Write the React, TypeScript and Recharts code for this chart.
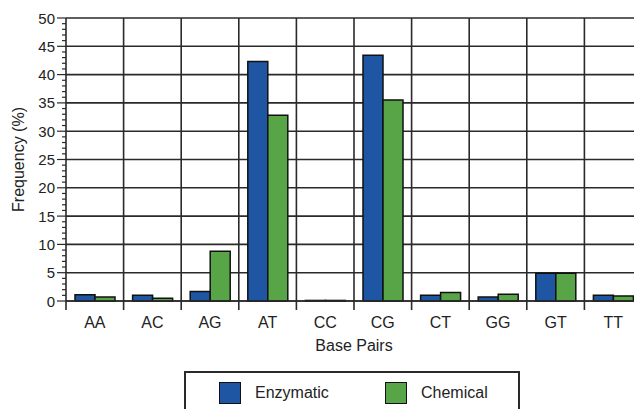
import React from 'react';
import { BarChart, Bar, XAxis, YAxis, CartesianGrid, Legend } from 'recharts';

const categories = ['AA', 'AC', 'AG', 'AT', 'CC', 'CG', 'CT', 'GG', 'GT', 'TT'];
const enzymatic = [1.1, 1.0, 1.7, 42.3, 0.1, 43.4, 1.0, 0.7, 4.9, 1.0];
const chemical = [0.7, 0.5, 8.8, 32.8, 0.1, 35.5, 1.5, 1.2, 4.9, 0.9];
const yTicks = Array.from({ length: 51 }, (_, i) => i);
const majorTicks = [0, 5, 10, 15, 20, 25, 30, 35, 40, 45, 50];

const data = categories.map((c, i) => ({ pair: c, Enzymatic: enzymatic[i], Chemical: chemical[i] }));

const BLUE = '#1f56a3';
const GREEN = '#58a547';
const INK = '#2a2a2a';
const FONT = '"Liberation Sans", Arial, Helvetica, sans-serif';

const XTick = (props: any) => {
  const { x, y, payload, width } = props;
  const w = typeof width === 'number' && width > 0 ? width : 576;
  const bx = x - w / categories.length / 2;
  return (
    <g>
      <line x1={bx} x2={bx} y1={y} y2={y + 9} stroke={INK} strokeWidth={1.6} />
      <text x={x} y={y + 21} textAnchor="middle" dominantBaseline="central" fill="#222" fontSize={16} fontFamily={FONT}>
        {payload.value}
      </text>
    </g>
  );
};

const YTick = (props: any) => {
  const { x, y, payload } = props;
  const v = payload.value;
  const major = v % 5 === 0;
  return (
    <g>
      <line x1={x - (major ? 9 : 4)} x2={x} y1={y} y2={y} stroke={INK} strokeWidth={1.2} />
      {major && (
        <text x={x - 11} y={y} textAnchor="end" dominantBaseline="central" fill="#222" fontSize={15} fontFamily={FONT}>
          {v}
        </text>
      )}
    </g>
  );
};

const verticalGen = (p: any) => {
  const o = p.offset;
  return categories.map((_, i) => o.left + ((i + 1) * o.width) / categories.length);
};

const horizontalGen = (p: any) => {
  const o = p.offset;
  return majorTicks.map((v) => o.top + o.height * (1 - v / 50));
};

const LegendBox = () => (
  <div style={{ position: 'relative', width: 660, height: 70 }}>
    <div
      style={{
        position: 'absolute',
        left: 184,
        top: 18,
        width: 336,
        height: 50,
        border: `2px solid ${INK}`,
        boxSizing: 'border-box',
        fontFamily: FONT,
        fontSize: 16,
        color: '#222',
      }}
    >
      {[
        { name: 'Enzymatic', color: BLUE, sx: 33 },
        { name: 'Chemical', color: GREEN, sx: 199 },
      ].map((it) => (
        <React.Fragment key={it.name}>
          <div
            style={{
              position: 'absolute',
              left: it.sx,
              top: 9,
              width: 22,
              height: 22,
              background: it.color,
              border: '1.5px solid #111',
              boxSizing: 'border-box',
            }}
          />
          <div style={{ position: 'absolute', left: it.sx + 36, top: 10, lineHeight: '20px' }}>{it.name}</div>
        </React.Fragment>
      ))}
    </div>
  </div>
);

export default function App() {
  return (
    <div style={{ position: 'absolute', left: 0, top: 0, width: 634, height: 409, overflow: 'hidden', background: '#fff' }}>
      <BarChart
        width={660}
        height={423}
        data={data}
        margin={{ top: 18, right: 18, left: 10, bottom: 0 }}
        barGap={0}
        barSize={20}
      >
        <CartesianGrid
          stroke={INK}
          strokeWidth={1.6}
          verticalCoordinatesGenerator={verticalGen}
          horizontalCoordinatesGenerator={horizontalGen}
        />
        <XAxis
          dataKey="pair"
          height={52}
          tickSize={0}
          tickMargin={0}
          tickLine={false}
          interval={0}
          axisLine={{ stroke: INK, strokeWidth: 1.6 }}
          tick={<XTick />}
          label={{ value: 'Base Pairs', position: 'insideBottom', offset: 2, fill: '#222', fontSize: 16, fontFamily: FONT }}
        />
        <YAxis
          type="number"
          domain={[0, 50]}
          ticks={yTicks}
          interval={0}
          width={56}
          tickSize={0}
          tickMargin={0}
          tickLine={false}
          axisLine={{ stroke: INK, strokeWidth: 1.6 }}
          tick={<YTick />}
          label={{
            value: 'Frequency (%)',
            angle: -90,
            position: 'insideLeft',
            offset: 8,
            fill: '#222',
            fontSize: 16,
            fontFamily: FONT,
            style: { textAnchor: 'middle' },
          }}
        />
        <Legend verticalAlign="bottom" wrapperStyle={{ left: 0, width: 660 }} content={<LegendBox />} />
        <Bar dataKey="Enzymatic" fill={BLUE} stroke="#111" strokeWidth={1.5} isAnimationActive={false} />
        <Bar dataKey="Chemical" fill={GREEN} stroke="#111" strokeWidth={1.5} isAnimationActive={false} />
      </BarChart>
    </div>
  );
}
